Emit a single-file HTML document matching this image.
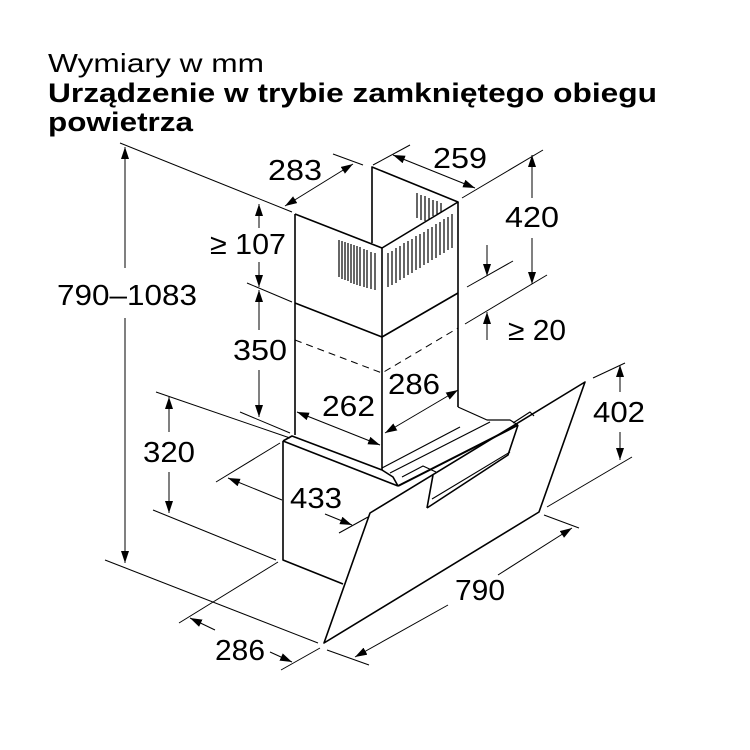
<!DOCTYPE html>
<html><head><meta charset="utf-8"><style>
html,body{margin:0;padding:0;background:#fff}
svg{display:block}
text{font-family:"Liberation Sans",Arial,sans-serif;fill:#000}
.d{font-size:29px}
</style></head><body>
<svg width="750" height="750" viewBox="0 0 750 750" xmlns="http://www.w3.org/2000/svg">
<defs>
<marker id="a" markerWidth="12" markerHeight="8" refX="12" refY="4" orient="auto-start-reverse" markerUnits="userSpaceOnUse">
<path d="M0,0 L12,4 L0,8 Z" fill="#000"/>
</marker>
</defs>
<text x="48" y="72" font-size="26" textLength="216" lengthAdjust="spacingAndGlyphs">Wymiary w mm</text>
<text x="48" y="102" font-size="27" font-weight="bold" textLength="609" lengthAdjust="spacingAndGlyphs">Urządzenie w trybie zamkniętego obiegu</text>
<text x="48" y="131" font-size="27" font-weight="bold" textLength="145" lengthAdjust="spacingAndGlyphs">powietrza</text>

<g stroke="#000" stroke-width="1.6" fill="none" stroke-linejoin="round">
<path d="M295,214 L382,248 L458,202 L372,167 L372,243"/>
<path d="M295,214 L295,435"/>
<path d="M382,248 L382,470"/>
<path d="M458,202 L458,407"/>
<path d="M295,303 L382,337 L458,293"/>
<!-- box -->
<path d="M283,441 L283,560 L343,584"/>
<path d="M283,441 L292,436 L382,470"/>
<path d="M283,441 L398,486"/>
<path d="M382,470 L393,477 L398,486"/>
<!-- glass -->
<path d="M370,513 L585,382 L539,512 L324,643 Z"/>
<!-- body line -->
<path d="M398,486 L518,425" stroke-width="2"/>
<!-- slot -->
<path d="M427,508 L433,475 M518,425 L508,455 L427,508"/>
<path d="M432,499 L510,452" stroke-width="1.1"/>
<!-- rails -->
<path d="M458,407 L487,420 L510,420 L518,425" stroke-width="1.2"/>
<path d="M382,468 L460,427" stroke-width="1.2"/>
<path d="M390,473 L490,422" stroke-width="1.2"/>
<path d="M402,477 L423,466 L436,472" stroke-width="1.2"/>
<path d="M513,423 L530,412 L534,416" stroke-width="1.2"/>
</g>
<path d="M295,340 L382,373 L458,328" stroke="#000" stroke-width="1" fill="none" stroke-dasharray="7,5"/>
<g stroke="#000" stroke-width="1.2">
<line x1="339" y1="240" x2="339" y2="277"/><line x1="342" y1="241" x2="342" y2="279"/><line x1="345" y1="242" x2="345" y2="280"/><line x1="348" y1="243" x2="348" y2="281"/><line x1="351" y1="244" x2="351" y2="283"/><line x1="354" y1="245" x2="354" y2="284"/><line x1="357" y1="246" x2="357" y2="285"/><line x1="360" y1="247" x2="360" y2="286"/><line x1="364" y1="249" x2="364" y2="287"/><line x1="367" y1="250" x2="367" y2="288"/><line x1="371" y1="252" x2="371" y2="289"/><line x1="375" y1="253" x2="375" y2="290"/>
<line x1="388" y1="253" x2="388" y2="287"/><line x1="392" y1="251" x2="392" y2="285"/><line x1="396" y1="248" x2="396" y2="283"/><line x1="400" y1="246" x2="400" y2="280"/><line x1="404" y1="243" x2="404" y2="278"/><line x1="408" y1="241" x2="408" y2="275"/><line x1="412" y1="239" x2="412" y2="273"/><line x1="416" y1="236" x2="416" y2="270"/><line x1="420" y1="234" x2="420" y2="268"/><line x1="424" y1="232" x2="424" y2="265"/><line x1="428" y1="229" x2="428" y2="263"/><line x1="432" y1="227" x2="432" y2="260"/><line x1="436" y1="224" x2="436" y2="258"/><line x1="440" y1="222" x2="440" y2="255"/><line x1="444" y1="219" x2="444" y2="253"/><line x1="448" y1="217" x2="448" y2="250"/><line x1="452" y1="214" x2="452" y2="248"/>
<line x1="417" y1="193" x2="417" y2="218"/><line x1="421" y1="195" x2="421" y2="220"/><line x1="425" y1="196" x2="425" y2="221"/><line x1="429" y1="198" x2="429" y2="219"/><line x1="433" y1="200" x2="433" y2="216"/><line x1="437" y1="201" x2="437" y2="214"/><line x1="441" y1="203" x2="441" y2="212"/>
</g>

<g stroke="#000" stroke-width="1" fill="none">
<line x1="120" y1="143" x2="292" y2="212"/>
<line x1="105" y1="560" x2="318" y2="643"/>
<line x1="333" y1="154" x2="363" y2="165"/>
<line x1="373" y1="165" x2="410" y2="145"/>
<line x1="462" y1="198" x2="543" y2="150"/>
<line x1="467" y1="287" x2="513" y2="261"/>
<line x1="465" y1="324" x2="547" y2="275"/>
<line x1="247" y1="283" x2="292" y2="302"/>
<line x1="240" y1="412" x2="290" y2="433"/>
<line x1="156" y1="392" x2="290" y2="438"/>
<line x1="153" y1="510" x2="276" y2="560"/>
<line x1="216" y1="482" x2="280" y2="443"/>
<line x1="339" y1="533" x2="368" y2="517"/>
<line x1="179" y1="623" x2="278" y2="562"/>
<line x1="281" y1="670" x2="320" y2="648"/>
<line x1="327" y1="650" x2="369" y2="665"/>
<line x1="544" y1="515" x2="579" y2="528"/>
<line x1="593" y1="378" x2="625" y2="363"/>
<line x1="547" y1="507" x2="632" y2="457"/>
<line x1="125" y1="147" x2="125" y2="268" marker-start="url(#a)"/>
<line x1="125" y1="318" x2="125" y2="563" marker-end="url(#a)"/>
<line x1="285" y1="206" x2="353" y2="164" marker-start="url(#a)" marker-end="url(#a)"/>
<line x1="393" y1="155" x2="475" y2="188" marker-start="url(#a)" marker-end="url(#a)"/>
<line x1="532" y1="155" x2="532" y2="198" marker-start="url(#a)"/>
<line x1="532" y1="238" x2="532" y2="284" marker-end="url(#a)"/>
<line x1="487" y1="245" x2="487" y2="276" marker-end="url(#a)"/>
<line x1="487" y1="340" x2="487" y2="312" marker-end="url(#a)"/>
<line x1="259" y1="204" x2="259" y2="228" marker-start="url(#a)"/>
<line x1="259" y1="262" x2="259" y2="287" marker-end="url(#a)"/>
<line x1="259" y1="290" x2="259" y2="330" marker-start="url(#a)"/>
<line x1="259" y1="370" x2="259" y2="417" marker-end="url(#a)"/>
<line x1="297" y1="412" x2="380" y2="445" marker-start="url(#a)" marker-end="url(#a)"/>
<line x1="385" y1="433" x2="458" y2="390" marker-start="url(#a)" marker-end="url(#a)"/>
<line x1="169" y1="397" x2="169" y2="432" marker-start="url(#a)"/>
<line x1="169" y1="472" x2="169" y2="513" marker-end="url(#a)"/>
<line x1="228" y1="478" x2="282" y2="500" marker-start="url(#a)"/>
<line x1="325" y1="514" x2="352" y2="525" marker-end="url(#a)"/>
<line x1="190" y1="618" x2="215" y2="630" marker-start="url(#a)"/>
<line x1="270" y1="652" x2="292" y2="662" marker-end="url(#a)"/>
<line x1="355" y1="657" x2="448" y2="605" marker-start="url(#a)"/>
<line x1="498" y1="575" x2="572" y2="528" marker-end="url(#a)"/>
<line x1="620" y1="365" x2="620" y2="392" marker-start="url(#a)"/>
<line x1="620" y1="432" x2="620" y2="460" marker-end="url(#a)"/>
</g>

<g class="d">
<text x="57" y="305" textLength="140" lengthAdjust="spacingAndGlyphs">790–1083</text>
<text x="268" y="180" textLength="54" lengthAdjust="spacingAndGlyphs">283</text>
<text x="433" y="168" textLength="54" lengthAdjust="spacingAndGlyphs">259</text>
<text x="505" y="227" textLength="54" lengthAdjust="spacingAndGlyphs">420</text>
<text x="508" y="340" textLength="58" lengthAdjust="spacingAndGlyphs">≥ 20</text>
<text x="210" y="254" textLength="76" lengthAdjust="spacingAndGlyphs">≥ 107</text>
<text x="233" y="360" textLength="54" lengthAdjust="spacingAndGlyphs">350</text>
<text x="322" y="416" textLength="53" lengthAdjust="spacingAndGlyphs">262</text>
<text x="388" y="394" textLength="52" lengthAdjust="spacingAndGlyphs">286</text>
<text x="143" y="462" textLength="52" lengthAdjust="spacingAndGlyphs">320</text>
<text x="290" y="508" textLength="52" lengthAdjust="spacingAndGlyphs">433</text>
<text x="215" y="660" textLength="50" lengthAdjust="spacingAndGlyphs">286</text>
<text x="455" y="600" textLength="50" lengthAdjust="spacingAndGlyphs">790</text>
<text x="593" y="422" textLength="52" lengthAdjust="spacingAndGlyphs">402</text>
</g>
</svg>
</body></html>
